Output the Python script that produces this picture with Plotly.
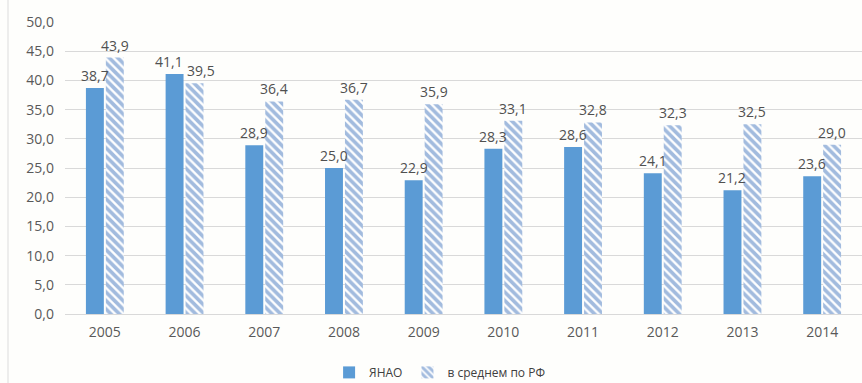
import plotly.graph_objects as go

years = ["2005", "2006", "2007", "2008", "2009", "2010", "2011", "2012", "2013", "2014"]
yanao = [38.7, 41.1, 28.9, 25.0, 22.9, 28.3, 28.6, 24.1, 21.2, 23.6]
rf_avg = [43.9, 39.5, 36.4, 36.7, 35.9, 33.1, 32.8, 32.3, 32.5, 29.0]
y_ticks = [0, 5, 10, 15, 20, 25, 30, 35, 40, 45, 50]

FONT = "Open Sans, Liberation Sans, sans-serif"
lab_font = dict(family=FONT, size=14, color="#505050")

fig = go.Figure()
fig.add_trace(go.Bar(
    x=years, y=yanao, name="ЯНАО",
    marker=dict(color="#5b9bd5", line=dict(width=0)),
))
fig.add_trace(go.Bar(
    x=years, y=rf_avg, name="в среднем по РФ",
    marker=dict(color="white", line=dict(width=0),
                pattern=dict(shape="\\", fgcolor="#4577bd", bgcolor="white",
                             size=6, solidity=0.62)),
))

# data labels: centred over each bar, pushed apart where they would collide
annotations = []
for i, (a, b) in enumerate(zip(yanao, rf_avg)):
    extra = 6 if abs(a - b) < 3.5 else 0
    annotations.append(dict(x=i, y=a, xref="x", yref="y", text=f"{a:.1f}".replace(".", ","),
                            showarrow=False, yanchor="bottom", xshift=-10 - extra, yshift=1,
                            font=lab_font))
    annotations.append(dict(x=i, y=b, xref="x", yref="y", text=f"{b:.1f}".replace(".", ","),
                            showarrow=False, yanchor="bottom", xshift=10 + extra, yshift=1,
                            font=lab_font))

fig.update_layout(
    width=862, height=383,
    margin=dict(l=65, r=0, t=22, b=69, autoexpand=False),
    paper_bgcolor="#fefefc", plot_bgcolor="#fefefc",
    separators=", ",
    barmode="group", bargap=0.5, bargroupgap=0.1,
    font=dict(family=FONT, size=14, color="#595959"),
    legend=dict(orientation="h", x=0.47, xanchor="center", y=-0.2, yanchor="middle",
                font=dict(size=12, color="#404040"), traceorder="normal",
                itemwidth=30),
    xaxis=dict(type="category", range=[-0.5, len(years) - 0.5],
               showgrid=False, showline=True, linecolor="#d9d9d9", linewidth=1,
               ticks="", ticklabelstandoff=5,
               tickfont=dict(size=14, color="#595959")),
    yaxis=dict(range=[0, 50], tickvals=y_ticks, tickformat=".1f",
               showgrid=True, gridcolor="#d9d9d9", gridwidth=1,
               zeroline=False, showline=False, ticks="", ticklen=0,
               ticklabelstandoff=10,
               tickfont=dict(size=14, color="#595959")),
    annotations=annotations,
    shapes=[dict(type="line", xref="paper", yref="paper",
                 x0=-0.0715, x1=-0.0715, y0=-0.3, y1=1.1,
                 line=dict(color="#dcdcdc", width=1))],
)

fig.write_html("out.html")
